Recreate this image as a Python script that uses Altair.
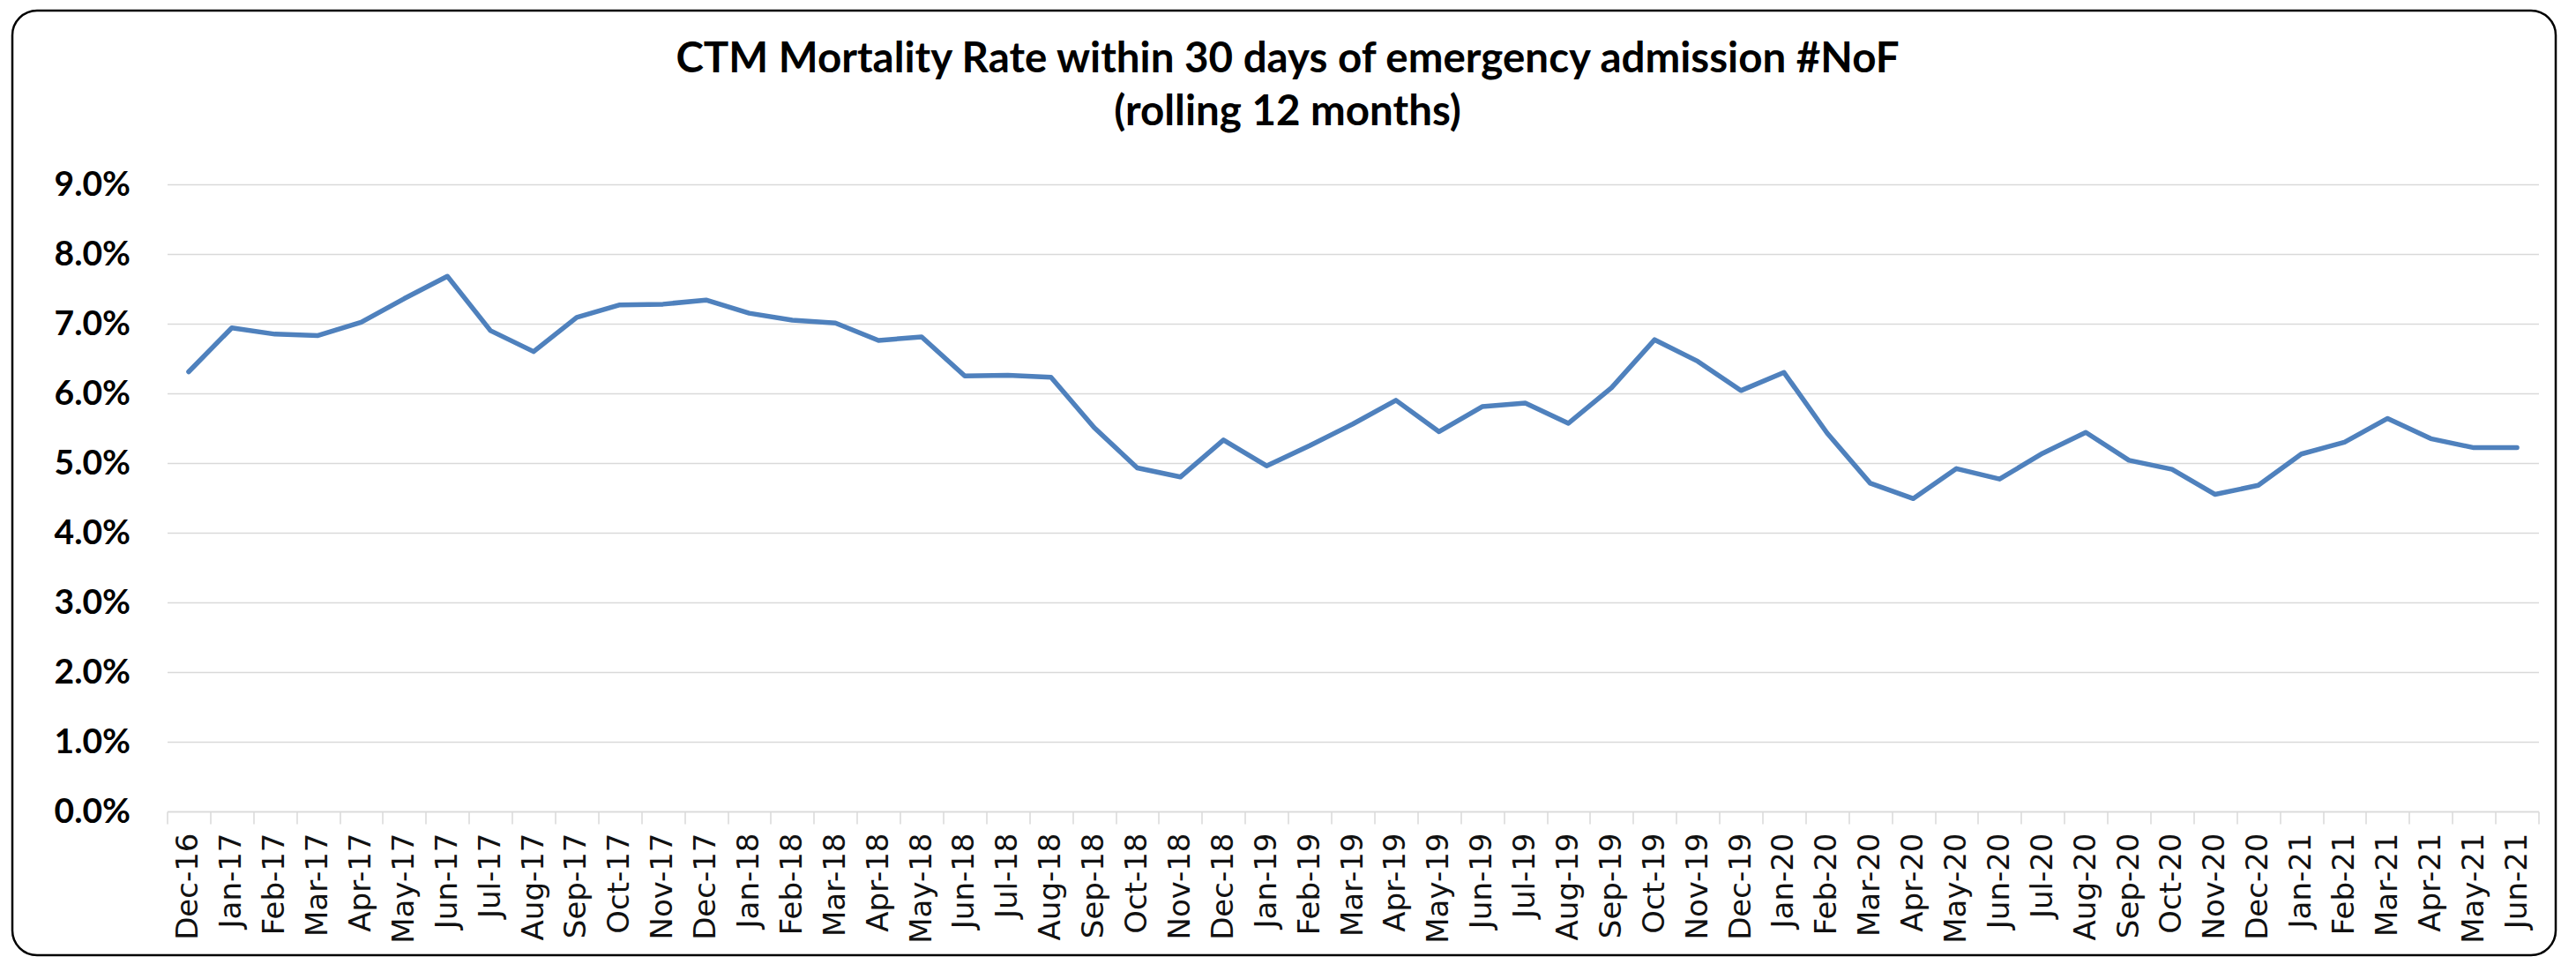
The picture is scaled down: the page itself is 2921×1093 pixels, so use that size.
import altair as alt
import pandas as pd

months = [
    "Dec-16",
    "Jan-17", "Feb-17", "Mar-17", "Apr-17", "May-17", "Jun-17",
    "Jul-17", "Aug-17", "Sep-17", "Oct-17", "Nov-17", "Dec-17",
    "Jan-18", "Feb-18", "Mar-18", "Apr-18", "May-18", "Jun-18",
    "Jul-18", "Aug-18", "Sep-18", "Oct-18", "Nov-18", "Dec-18",
    "Jan-19", "Feb-19", "Mar-19", "Apr-19", "May-19", "Jun-19",
    "Jul-19", "Aug-19", "Sep-19", "Oct-19", "Nov-19", "Dec-19",
    "Jan-20", "Feb-20", "Mar-20", "Apr-20", "May-20", "Jun-20",
    "Jul-20", "Aug-20", "Sep-20", "Oct-20", "Nov-20", "Dec-20",
    "Jan-21", "Feb-21", "Mar-21", "Apr-21", "May-21", "Jun-21",
]

rate_pct = [
    6.31,
    6.94, 6.85, 6.83, 7.02, 7.36, 7.68,
    6.90, 6.60, 7.09, 7.27, 7.28, 7.34,
    7.15, 7.05, 7.01, 6.76, 6.81, 6.25,
    6.26, 6.23, 5.51, 4.93, 4.80, 5.33,
    4.96, 5.25, 5.56, 5.90, 5.45, 5.81,
    5.86, 5.57, 6.08, 6.77, 6.46, 6.04,
    6.30, 5.43, 4.71, 4.49, 4.92, 4.77,
    5.14, 5.44, 5.04, 4.91, 4.55, 4.68,
    5.13, 5.30, 5.64, 5.35, 5.22, 5.22,
]

y_ticks = [0.0, 0.01, 0.02, 0.03, 0.04, 0.05, 0.06, 0.07, 0.08, 0.09]

title_lines = [
    "CTM Mortality Rate within 30 days of emergency admission #NoF",
    "(rolling 12 months)",
]

df = pd.DataFrame({"month": months, "rate": [v / 100 for v in rate_pct]})

W, H = 2689, 711

line = alt.Chart(df).mark_line(
    color="#4F81BD", strokeWidth=5.5, strokeJoin="round", strokeCap="round"
).encode(
    x=alt.X(
        "month:N",
        sort=months,
        bandPosition=0.5,
        scale=alt.Scale(type="band", paddingInner=0, paddingOuter=0),
        axis=alt.Axis(
            title=None,
            labelAngle=-90,
            labelFont="DejaVu Sans",
            labelFontSize=34,
            labelColor="#111111",
            labelPadding=10,
            tickBand="extent",
            tickSize=14,
            tickColor="#d9d9d9",
            tickWidth=1.5,
            domainColor="#d9d9d9",
            domainWidth=1.5,
            grid=False,
            labelOverlap=False,
        ),
    ),
    y=alt.Y(
        "rate:Q",
        scale=alt.Scale(domain=[0, 0.09], nice=False),
        axis=alt.Axis(
            title=None,
            format=".1%",
            values=y_ticks,
            grid=True,
            gridColor="#d9d9d9",
            gridWidth=1.5,
            domain=False,
            ticks=False,
            labelFont="Lato",
            labelFontWeight="bold",
            labelFontSize=39,
            labelColor="black",
            labelAlign="right",
            labelBaseline="middle",
            labelPadding=42,
        ),
    ),
)

frame = alt.Chart(alt.Data(values=[{}])).mark_rect(
    filled=False, stroke="black", strokeWidth=2.5, cornerRadius=28
).encode(
    x=alt.value(-175.5),
    x2=alt.value(2708.5),
    y=alt.value(-197),
    y2=alt.value(874),
)

chart = alt.layer(frame, line).properties(
    width=W,
    height=H,
    autosize=alt.AutoSizeParams(type="none"),
    padding={"left": 181.5, "top": 201, "right": 30, "bottom": 165},
    title=alt.Title(
        title_lines,
        font="Lato",
        fontSize=47.5,
        fontWeight="bold",
        color="black",
        anchor="middle",
        frame="group",
        dx=-74,
        dy=171,
        offset=30,
        lineHeight=60,
    ),
).configure_view(stroke=None)

chart.save("out.html", embed_options={"renderer": "svg", "actions": False})
